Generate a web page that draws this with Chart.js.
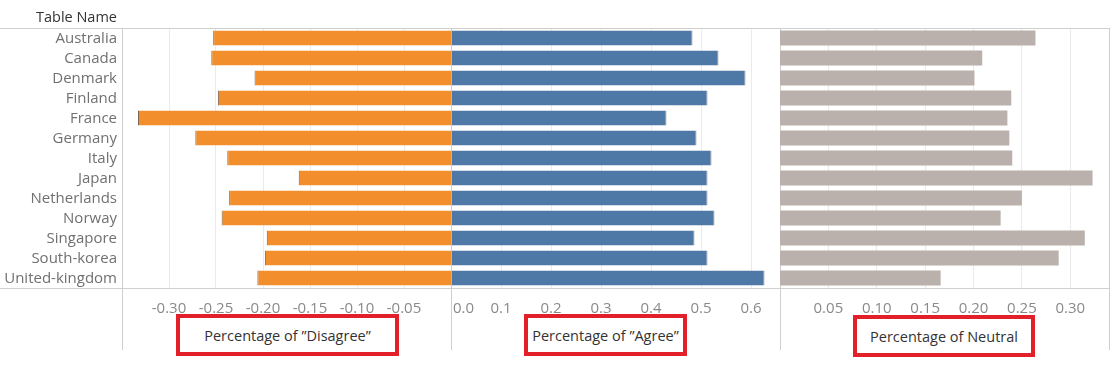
<!DOCTYPE html>
<html>
<head>
<meta charset="utf-8">
<script src="https://cdn.jsdelivr.net/npm/chart.js@4.4.1/dist/chart.umd.min.js"></script>
<style>
  html, body { margin: 0; padding: 0; background: #fff; }
  #wrap { position: relative; width: 1119px; height: 379px; overflow: hidden; font-family: "Open Sans", "Noto Sans", sans-serif; }
  #wrap canvas { position: absolute; left: 0; top: 0; }
  .hdr { position: absolute; left: 0; top: 6px; width: 117px; text-align: right; font-size: 14.5px; color: #333; line-height: 22px; }
  .tbox { position: absolute; box-sizing: border-box; border: 4px solid #e3202a; display: flex; align-items: center; justify-content: center; font-size: 14.5px; color: #333; background: #fff; white-space: nowrap; }
</style>
</head>
<body>
<div id="wrap">
  <canvas id="cDis" width="1119" height="379"></canvas>
  <canvas id="cAgr" width="1119" height="379"></canvas>
  <canvas id="cNeu" width="1119" height="379"></canvas>
  <div class="hdr">Table Name</div>
  <div class="tbox" style="left:176px; top:314px; width:223px; height:42px;">Percentage of ”Disagree”</div>
  <div class="tbox" style="left:524px; top:314px; width:163px; height:42px;">Percentage of ”Agree”</div>
  <div class="tbox" style="left:853px; top:315px; width:182px; height:42px;">Percentage of Neutral</div>
</div>
<script>
const countries = ["Australia", "Canada", "Denmark", "Finland", "France", "Germany", "Italy", "Japan", "Netherlands", "Norway", "Singapore", "South-korea", "United-kingdom"];
const disagree = [-0.253, -0.255, -0.209, -0.248, -0.333, -0.272, -0.238, -0.162, -0.236, -0.244, -0.196, -0.198, -0.206];
const agree    = [0.483, 0.535, 0.589, 0.513, 0.431, 0.491, 0.521, 0.513, 0.513, 0.527, 0.487, 0.513, 0.627];
const neutral  = [0.264, 0.209, 0.201, 0.239, 0.235, 0.237, 0.240, 0.323, 0.250, 0.228, 0.315, 0.288, 0.166];

const disagreeTicks = [-0.30, -0.25, -0.20, -0.15, -0.10, -0.05];
const agreeTicks    = [0.0, 0.1, 0.2, 0.3, 0.4, 0.5, 0.6];
const neutralTicks  = [0.05, 0.10, 0.15, 0.20, 0.25, 0.30];

const disagreeRange = [-0.35, 0];
const agreeRange    = [0, 0.658];
const neutralRange  = [0, 0.34];

const TICK_FONT = { family: '"Open Sans", "Noto Sans", sans-serif', size: 15 };
const ROW_FONT = { family: '"Open Sans", "Noto Sans", sans-serif', size: 15 };

const panelFrame = {
  id: 'panelFrame',
  beforeDatasetsDraw(chart, args, opts) {
    const ctx = chart.ctx, a = chart.chartArea;
    ctx.save();
    ctx.strokeStyle = '#cfcfcf';
    ctx.lineWidth = 1;
    ctx.beginPath();
    const x0 = opts.fromZero ? 0 : a.left;
    const t = Math.round(a.top) + 0.5, b = Math.round(a.bottom) + 0.5;
    ctx.moveTo(x0, t); ctx.lineTo(Math.round(a.right) + 1, t);
    ctx.moveTo(x0, b); ctx.lineTo(Math.round(a.right) + 1, b);
    [a.left, a.right].forEach(x => {
      const xx = Math.round(x) + 0.5;
      ctx.moveTo(xx, a.top); ctx.lineTo(xx, a.bottom + 62);
    });
    ctx.stroke();
    ctx.restore();
  },
  beforeDraw(chart, args, opts) {
    if (!opts.leftAlignFirst) return;
    try {
      const s = chart.scales.x;
      const items = s.getLabelItems(chart.chartArea);
      if (items && items.length) {
        const it = items[0];
        it.options.textAlign = 'left';
        it.options.translation[0] = s.getPixelForValue(s.ticks[0].value) + 2;
      }
    } catch (e) {}
  }
};

function makeChart(id, values, color, border, range, ticks, digits, padL, padR, showY, frameOpts) {
  return new Chart(document.getElementById(id), {
    type: 'bar',
    data: {
      labels: countries,
      datasets: [{
        data: values,
        backgroundColor: color,
        borderColor: border.color,
        borderWidth: border.width,
        borderSkipped: false,
        barPercentage: 0.75,
        categoryPercentage: 1.0
      }]
    },
    options: {
      indexAxis: 'y',
      responsive: false,
      animation: false,
      devicePixelRatio: 1,
      layout: { padding: { left: padL, right: padR, top: 28, bottom: 0 } },
      plugins: { legend: { display: false }, tooltip: { enabled: false }, panelFrame: frameOpts },
      scales: {
        y: {
          display: showY,
          grid: { display: false, drawTicks: false, tickLength: 0 },
          border: { display: false },
          ticks: { font: ROW_FONT, color: '#707070', padding: 5, autoSkip: false, labelOffset: 1 },
          afterFit(s) { if (showY) s.width = 122; }
        },
        x: {
          min: range[0],
          max: range[1],
          grid: {
            drawTicks: false,
            color: ctx => (ctx.tick && ctx.tick.value === 0) ? '#cfcfcf' : '#ebebeb',
            lineWidth: 1
          },
          border: { display: false },
          afterBuildTicks(s) { s.ticks = ticks.map(v => ({ value: v })); },
          ticks: {
            font: TICK_FONT,
            color: '#8a8a8a',
            padding: 12,
            maxRotation: 0,
            autoSkip: false,
            callback: v => Number(v).toFixed(digits)
          },
          afterFit(s) { s.height = 91; s.paddingLeft = 0; s.paddingRight = 0; }
        }
      }
    },
    plugins: [panelFrame]
  });
}

makeChart('cDis', disagree, '#f28e2b', { color: '#7a6450', width: { left: 1, right: 0, top: 0, bottom: 0 } },
  disagreeRange, disagreeTicks, 2, 0, 668, true, { fromZero: true });
makeChart('cAgr', agree, '#4e79a7', { color: '#8c8c8c', width: { left: 0, right: 1, top: 0, bottom: 0 } },
  agreeRange, agreeTicks, 1, 451, 339, false, { leftAlignFirst: true });
makeChart('cNeu', neutral, '#bab0ac', { color: '#bab0ac', width: 0 },
  neutralRange, neutralTicks, 2, 780, 10, false, {});
</script>
</body>
</html>
